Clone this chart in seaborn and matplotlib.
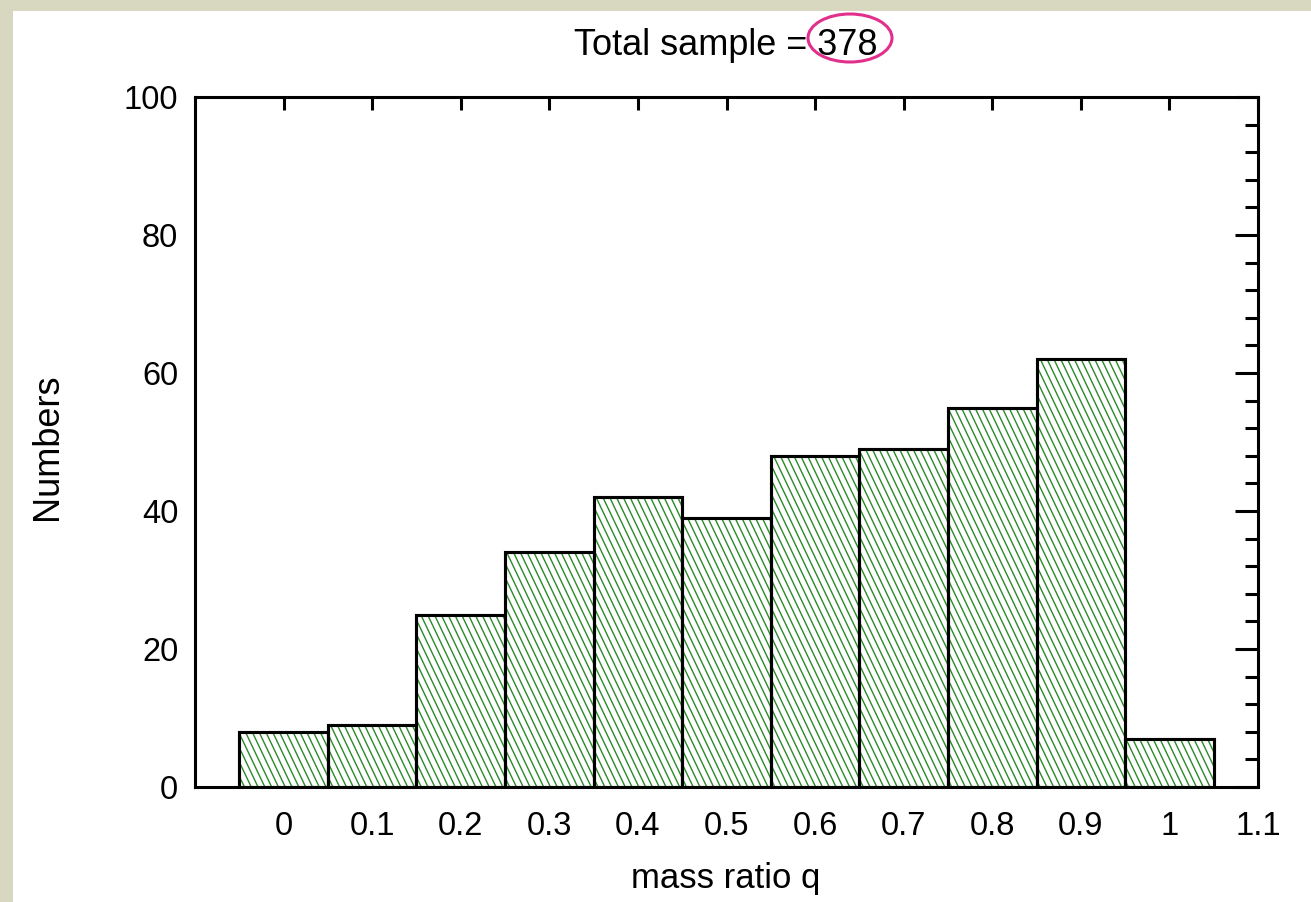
import numpy as np
import pandas as pd
import matplotlib
matplotlib.use("Agg")
import matplotlib.pyplot as plt
import seaborn as sns
from matplotlib.collections import LineCollection
from matplotlib.patches import Rectangle, Ellipse
from matplotlib.ticker import MultipleLocator, FuncFormatter
from matplotlib.transforms import IdentityTransform

# data (bin centres and counts)
q_values = [0.0, 0.1, 0.2, 0.3, 0.4, 0.5, 0.6, 0.7, 0.8, 0.9, 1.0]
counts = [8, 9, 25, 34, 42, 39, 48, 49, 55, 62, 7]
x_ticks = [0.0, 0.1, 0.2, 0.3, 0.4, 0.5, 0.6, 0.7, 0.8, 0.9, 1.0, 1.1]
total = sum(counts)

df = pd.DataFrame({'q': q_values, 'n': counts})

sns.set_style("white")
plt.rcParams['font.family'] = ['Liberation Sans', 'DejaVu Sans']
plt.rcParams['text.color'] = 'black'

W, H = 1311, 902
fig = plt.figure(figsize=(W / 100, H / 100), dpi=100, facecolor='#d8d8c0')
fig.add_artist(Rectangle((13 / W, 0), 1, 1 - 11 / H, transform=fig.transFigure,
                         facecolor='white', edgecolor='none', zorder=-1))

ax = fig.add_axes([195 / W, 1 - 787 / H, (1258 - 195) / W, (787 - 97) / H])

sns.barplot(data=df, x='q', y='n', native_scale=True, width=1.0, color='white',
            saturation=1, edgecolor='black', linewidth=2.2, errorbar=None, ax=ax)

ax.set_xlim(-0.1, 1.1)
ax.set_ylim(0, 100)
ax.set_xticks(x_ticks)
ax.xaxis.set_major_formatter(FuncFormatter(lambda v, p: f"{round(v, 2):g}"))
ax.yaxis.set_major_locator(MultipleLocator(20))
ax.yaxis.set_minor_locator(MultipleLocator(4))
ax.set_xlabel('')
ax.set_ylabel('')

ax.tick_params(which='both', direction='in', top=True, right=True,
               width=2.2, color='black', labelcolor='black', labelsize=23.5)
ax.tick_params(axis='y', which='major', length=16.5, pad=12)
ax.tick_params(axis='y', which='minor', length=9.4)
ax.tick_params(axis='x', which='major', length=9.4, pad=17)
for sp in ax.spines.values():
    sp.set_linewidth(2.2)
    sp.set_color('black')

# steep green hatching, drawn per bar and clipped to it
spacing, slope = 6.8, 2.1
for bar in list(ax.patches):
    bb = bar.get_window_extent()
    x0, x1, y0, y1 = bb.x0, bb.x1, bb.y0, bb.y1
    k0 = int(np.floor((x0 + y0 / slope) / spacing)) - 1
    k1 = int(np.ceil((x1 + y1 / slope) / spacing)) + 1
    segs = [[(k * spacing - y1 / slope, y1), (k * spacing - y0 / slope, y0)]
            for k in range(k0, k1 + 1)]
    lc = LineCollection(segs, colors='#2a8a2a', linewidths=1.0,
                        transform=IdentityTransform(), zorder=bar.get_zorder() + 0.1)
    ax.add_collection(lc, autolim=False)
    lc.set_clip_path(bar)
    ax.add_patch(Rectangle(bar.get_xy(), bar.get_width(), bar.get_height(), fill=False,
                           edgecolor='black', linewidth=2.2, zorder=bar.get_zorder() + 0.2))

fig.text(726 / W, 1 - 55 / H, f'Total sample = {total}', ha='center', va='baseline',
         fontsize=26, color='black')
fig.add_artist(Ellipse((850 / W, 1 - 38 / H), 84 / W, 48 / H, transform=fig.transFigure,
                       fill=False, edgecolor='#e0308c', linewidth=2.2))
fig.text(726 / W, 1 - 888 / H, 'mass ratio q', ha='center', va='baseline',
         fontsize=25, color='black')
fig.text(47 / W, 1 - 447 / H, 'Numbers', rotation=90, ha='center', va='center',
         fontsize=26, color='black')

fig.savefig('out.png', dpi=100, facecolor=fig.get_facecolor())
